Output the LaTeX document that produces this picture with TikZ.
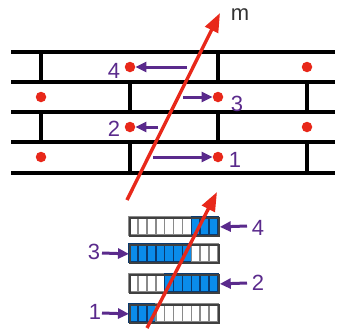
\documentclass[tikz,border=0pt]{standalone}
\usepackage{fontspec}
\setmainfont{Liberation Sans}
\usetikzlibrary{arrows.meta}
\definecolor{dotred}{HTML}{E8281A}
\definecolor{arrred}{HTML}{E8281A}
\definecolor{purp}{HTML}{5A2A8C}
\definecolor{cellblue}{HTML}{0A8CEB}
\definecolor{celldark}{HTML}{0A3A70}
\definecolor{cellgray}{HTML}{8A8A8A}
\begin{document}
\begin{tikzpicture}[x=1pt,y=-1pt,
  wall/.style={line width=3.2pt, black},
  dot/.style={circle, fill=dotred, inner sep=0pt, minimum size=10.5pt},
  push/.style={purp, line width=3pt, -{Triangle[length=11pt,width=10pt]}},
  lab/.style={text=purp, font=\fontsize{22}{22}\selectfont, inner sep=0pt},
  field/.style={arrred, line width=3.4pt, -{Triangle[length=19pt,width=14pt]}},
  barbox/.style={draw=black!75, line width=1.8pt, minimum width=89pt, minimum height=18pt, inner sep=0pt, anchor=north west},
]
\useasboundingbox (0,0) rectangle (337,332);

% ---------- top: wall structure ----------
\foreach \y in {52,82,112,142,173} \draw[wall] (11,\y) -- (335,\y);
\foreach \x in {41,218} {
  \draw[wall] (\x,52) -- (\x,82);
  \draw[wall] (\x,112) -- (\x,142);
}
\foreach \x in {130,307} {
  \draw[wall] (\x,82) -- (\x,112);
  \draw[wall] (\x,142) -- (\x,173);
}

% ---------- bottom: bars ----------
\foreach \name/\yt/\bs/\be in {b4/217/8/10, b3/244/1/7, b2/274/5/10, b1/304/1/3} {
  \foreach \i in {1,...,10} {
    \pgfmathsetmacro\xl{129+(\i-1)*8.9}
    \pgfmathtruncatemacro\isb{and(\i>\bs-1,\i<\be+1)}
    \ifnum\isb=1
      \draw[draw=celldark, fill=cellblue, line width=1.6pt] (\xl,\yt) rectangle +(8.9,18);
    \else
      \draw[draw=cellgray, fill=white, line width=1.6pt] (\xl,\yt) rectangle +(8.9,18);
    \fi
  }
  \node[barbox] (\name) at (129,\yt) {};
}

% ---------- red field arrows ----------
\coordinate (r1s) at (127,200);
\coordinate (r1e) at (220,13);
\coordinate (r2s) at (147,328);
\coordinate (r2e) at (217,192);
\draw[field] (r1s) -- (r1e);
\draw[field] (r2s) -- (r2e);
\node[font=\fontsize{22}{22}\selectfont, text=black!80, inner sep=0pt] (m) at (240,15) {m};

% ---------- dots ----------
\node[dot] (d4) at (130,67) {};
\node[dot] (e4) at (307,67) {};
\node[dot] (e3) at (41,97) {};
\node[dot] (d3) at (218,97) {};
\node[dot] (d2) at (130,127) {};
\node[dot] (e2) at (307,127) {};
\node[dot] (e1) at (41,157) {};
\node[dot] (d1) at (218,157) {};

% ---------- purple displacement arrows ----------
\coordinate (p4) at (187,67);
\coordinate (p3) at (183,97);
\coordinate (p2) at (158,127);
\coordinate (p1) at (153,157);
\draw[push] (p4) -- (d4);
\draw[push] (p3) -- (d3);
\draw[push] (p2) -- (d2);
\draw[push] (p1) -- (d1);
\node[lab] (l4) at (114,71) {4};
\node[lab] (l3) at (237,104) {3};
\node[lab] (l2) at (114,129) {2};
\node[lab] (l1) at (235,160) {1};

% ---------- purple arrows at bars ----------
\coordinate (q4) at (247,226);
\coordinate (q3) at (102,253);
\coordinate (q2) at (247,283);
\coordinate (q1) at (102,313);
\draw[push] (q4) -- (b4.east);
\draw[push] (q3) -- (b3.west);
\draw[push] (q2) -- (b2.east);
\draw[push] (q1) -- (b1.west);
\node[lab] (k4) at (258,228) {4};
\node[lab] (k3) at (94,252) {3};
\node[lab] (k2) at (258,283) {2};
\node[lab] (k1) at (95,312) {1};
\end{tikzpicture}
\end{document}
